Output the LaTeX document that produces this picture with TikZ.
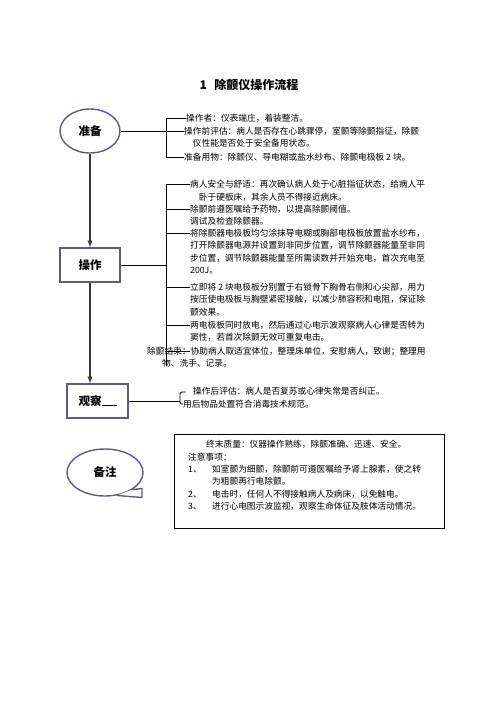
\documentclass[tikz,border=0pt]{standalone}
\usepackage{fontspec}
\setmainfont{Noto Sans CJK SC}
\usetikzlibrary{calc,shapes.geometric}

\definecolor{kuangse}{RGB}{92,90,140}
\definecolor{jiantouse}{RGB}{55,55,55}

\tikzset{
  kuang/.style={draw=kuangse, line width=1.4pt, fill=white, font=\fontsize{11.5}{13}\selectfont\bfseries},
  wenzi/.style={anchor=north west, inner sep=0pt, align=left, font=\fontsize{8.7}{12.4}\selectfont},
  jt/.style={draw=jiantouse, line width=1.3pt, -latex},
  xian/.style={line width=0.8pt}
}

\begin{document}
\begin{tikzpicture}[x=1pt,y=-1pt]
	\useasboundingbox (0,0) rectangle (496,702);

	% 标题
	\node[font=\fontsize{12}{14}\selectfont\bfseries] (bt) at (249,85) {1\hspace{0.6em}除颤仪操作流程};

	% 准备
	\node[kuang, ellipse, minimum width=60pt, minimum height=44pt, inner sep=0pt] (zb) at (90,131) {准备};
	\node[wenzi] (zb1) at (186,114) {操作者：仪表端庄，着装整洁。};
	\node[wenzi] (zb2) at (184,127) {操作前评估：病人是否存在心跳骤停，室颤等除颤指征，除颤\\\hspace*{1em}仪性能是否处于安全备用状态。};
	\node[wenzi] (zb3) at (184,153) {准备用物：除颤仪、导电糊或盐水纱布、除颤电极板 2 块。};
	\coordinate (zbs) at (166,118);
	\coordinate (zbx) at (166,157);
	\draw[xian] (zbs -| zb1.west) -- (zbs) -- (zbx) -- (zbx -| zb3.west);
	\draw[xian] (zb.east) -- (zb.east -| zb2.west);

	% 操作
	\node[kuang, minimum width=60pt, minimum height=34pt] (cz) at (90,265) {操作};
	\node[wenzi] (cz1) at (190,180) {病人安全与舒适：再次确认病人处于心脏指征状态，给病人平\\\hspace*{1em}卧于硬板床，其余人员不得接近病床。};
	\node[wenzi] (cz2) at (190,205) {除颤前遵医嘱给予药物，以提高除颤阈值。\\调试及检查除颤器。};
	\node[wenzi] (cz3) at (190,229) {将除颤器电极板均匀涂抹导电糊或胸部电极板放置盐水纱布，\\打开除颤器电源并设置到非同步位置，调节除颤器能量至非同\\步位置，调节除颤器能量至所需读数并开始充电，首次充电至\\200J。};
	\node[wenzi] (cz4) at (190,283) {立即将 2 块电极板分别置于右锁骨下胸骨右侧和心尖部，用力\\按压使电极板与胸壁紧密接触，以减少肺容积和电阻，保证除\\颤效果。};
	\node[wenzi] (cz5) at (190,321) {两电极板同时放电，然后通过心电示波观察病人心律是否转为\\窦性，若首次除颤无效可重复电击。};
	\node[wenzi] (cz6) at (147,347) {除颤结束：协助病人取适宜体位，整理床单位，安慰病人，致谢；整理用\\\hspace*{15pt}物、洗手、记录。};
	\coordinate (czs) at (166,184);
	\coordinate (czx) at (166,366);
	\draw[xian] (czs -| cz1.west) -- (czs) -- (czx);
	\foreach \t/\n in {209/cz2, 233/cz3, 287/cz4, 325/cz5}
		\draw[xian] (166,\t) -- (\n.west |- 0,\t);
	\draw[xian] (166,351) -- (cz1.west |- 0,351);
	\draw[xian] (cz.east) -- (cz.east -| czs);

	% 观察
	\node[kuang, minimum width=61pt, minimum height=34pt] (gc) at (97.5,401) {观察\rule{15pt}{0.6pt}};
	\node[wenzi] (gc1) at (193,387) {操作后评估：病人是否复苏或心律失常是否纠正。};
	\node[wenzi] (gc2) at (183,400) {用后物品处置符合消毒技术规范。};
	\coordinate (gcs) at (180,392);
	\coordinate (gcx) at (180,404);
	\draw[xian, rounded corners=1.5pt] ($(gcs)+(6,0)$) -- (gcs) -- (gcx) -- (gcx -| gc2.west);
	\draw[xian] (gc.east) -- (gc.east -| gcs);

	% 箭头
	\draw[jt] (zb.south) -- (cz.north);
	\draw[jt] (cz.south) -- (cz.south |- gc.north);

	% 备注
	\node[kuang, ellipse, minimum width=76pt, minimum height=47pt] (bz) at (105,472.5) {备注};
	\coordinate (bzj1) at (142,488.5);
	\coordinate (bzj2) at (142,497.5);
	\fill[white] (bz.-32) -- (bzj1) -- (bzj2) -- (bz.-62) -- cycle;
	\draw[draw=kuangse, line width=1.4pt, line join=round] (bz.-32) -- (bzj1) -- (bzj2) -- (bz.-62);
	\node[draw, line width=0.8pt, minimum width=270pt, minimum height=94pt, anchor=north west, inner sep=0pt] (bzk) at (174,434) {};
	\node[wenzi] (bzw) at (188,440) {\hspace*{18pt}终末质量：仪器操作熟练，除颤准确、迅速、安全。\\注意事项：\\\makebox[24pt][l]{1、}如室颤为细颤，除颤前可遵医嘱给予肾上腺素，使之转\\\hspace*{24pt}为粗颤再行电除颤。\\\makebox[24pt][l]{2、}电击时，任何人不得接触病人及病床，以免触电。\\\makebox[24pt][l]{3、}进行心电图示波监视，观察生命体征及肢体活动情况。};
\end{tikzpicture}
\end{document}
